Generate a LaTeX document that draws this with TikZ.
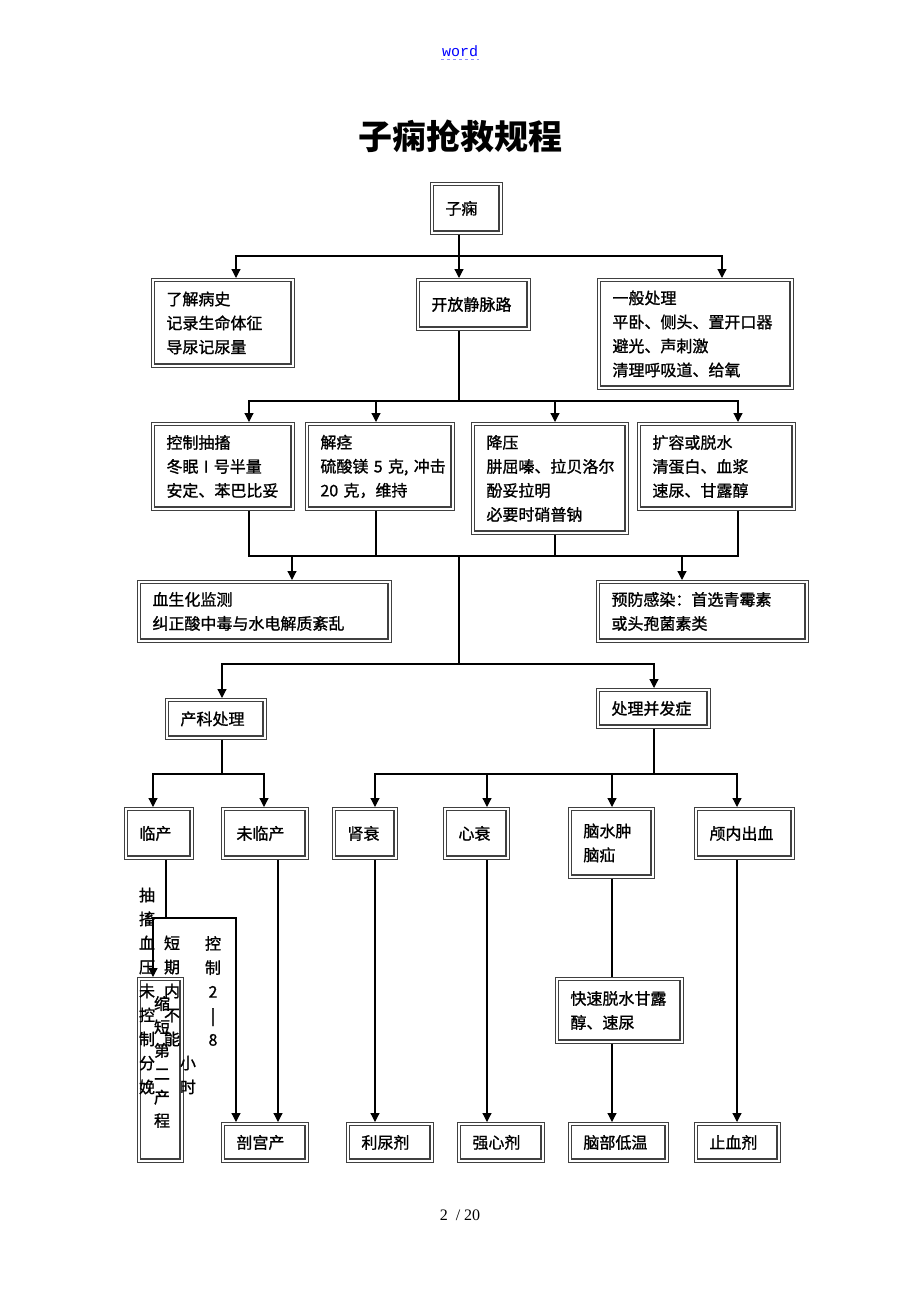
\documentclass[tikz,border=0pt]{standalone}
\usepackage{fontspec}
\setmainfont{Liberation Serif}
\newfontfamily\cjk{Noto Sans CJK SC}
\newfontfamily\cjkbox[FakeBold=1.2]{Noto Sans CJK SC}
\newfontfamily\hdrfont{Liberation Mono}
\usetikzlibrary{arrows.meta}
\hfuzz=30pt

\tikzset{
  line/.style={line width=1.2pt},
  arr/.style={line width=1.2pt,-{Triangle[width=9pt,length=9pt]}},
  box/.style={draw=black!75, line width=0.9pt, anchor=north west,
    inner xsep=15pt, inner ysep=0pt, align=left,
    font=\cjkbox\fontsize{16}{24}\selectfont,
    path picture={\draw[line width=1.6pt]
      ([shift={(3.2pt,-3.2pt)}]path picture bounding box.north west) rectangle
      ([shift={(-3.2pt,3.2pt)}]path picture bounding box.south east);}},
  vtxt/.style={font=\cjkbox\fontsize{16}{24}\selectfont, align=center, inner sep=0pt},
}

\begin{document}
\begin{tikzpicture}[x=1pt,y=-1pt]
\useasboundingbox (0,0) rectangle (920,1302);

\node[text=blue, font=\hdrfont\fontsize{15}{15}\selectfont, inner sep=1pt] (hdr) at (460,51) {word};
\draw[blue!45, dashed, line width=1pt] ([yshift=-2pt]hdr.south west) -- ([yshift=-2pt]hdr.south east);
\node[font=\cjk\bfseries\fontsize{34}{34}\selectfont] (title) at (460,136) {子痫抢救规程};
\node[font=\fontsize{16}{16}\selectfont] (page) at (460,1215) {2 \ / 20};

% first rows
\node[box, text width=42pt, minimum height=52pt] (zixian) at (430,182) {子痫};
\node[box, text width=113pt, minimum height=89pt] (liaojie) at (151,278) {了解病史\\记录生命体征\\导尿记尿量};
\node[box, text width=84pt, minimum height=52pt] (kaifang) at (416,278) {开放静脉路};
\node[box, text width=166pt, minimum height=111pt] (yiban) at (597,278) {一般处理\\平卧、侧头、置开口器\\避光、声刺激\\清理呼吸道、给氧};

\node[box, text width=113pt, minimum height=88pt] (kongzhi) at (151,422) {控制抽搐\\冬眠~I~号半量\\安定、苯巴比妥};
\node[box, text width=119pt, minimum height=88pt] (jiejing) at (305,422) {解痉\\硫酸镁~5~克,~冲击\\20~克，维持};
\node[box, text width=127pt, minimum height=112pt] (jiangya) at (471,422) {降压\\肼屈嗪、拉贝洛尔\\酚妥拉明\\必要时硝普钠};
\node[box, text width=128pt, minimum height=88pt] (kuorong) at (637,422) {扩容或脱水\\清蛋白、血浆\\速尿、甘露醇};

\node[box, text width=224pt, minimum height=62pt] (xuesheng) at (137,580) {血生化监测\\纠正酸中毒与水电解质紊乱};
\node[box, text width=182pt, minimum height=62pt] (yufang) at (596,580) {预防感染：首选青霉素\\或头孢菌素类};

\node[box, text width=71pt, minimum height=41pt] (chanke) at (165,698) {产科处理};
\node[box, text width=84pt, minimum height=40pt] (chuli) at (596,688) {处理并发症};

% third level
\node[box, text width=39pt, minimum height=52pt] (linchan) at (124,807) {临产};
\node[box, text width=57pt, minimum height=52pt] (weilin) at (221,807) {未临产};
\node[box, text width=35pt, minimum height=52pt] (shenshuai) at (332,807) {肾衰};
\node[box, text width=36pt, minimum height=52pt] (xinshuai) at (443,807) {心衰};
\node[box, text width=56pt, minimum height=71pt] (naoshui) at (568,807) {脑水肿\\脑疝};
\node[box, text width=70pt, minimum height=52pt] (lunei) at (694,807) {颅内出血};
\node[box, text width=98pt, minimum height=66pt] (kuaisu) at (555,977) {快速脱水甘露\\醇、速尿};
\node[box, text width=16pt, minimum height=185pt] (fenmian) at (137,977) {};

% bottom row
\node[box, text width=57pt, minimum height=40pt] (pougong) at (221,1122) {剖宫产};
\node[box, text width=57pt, minimum height=40pt] (liniao) at (346,1122) {利尿剂};
\node[box, text width=57pt, minimum height=40pt] (qiangxin) at (457,1122) {强心剂};
\node[box, text width=70pt, minimum height=40pt] (naobu) at (568,1122) {脑部低温};
\node[box, text width=56pt, minimum height=40pt] (zhixue) at (694,1122) {止血剂};

% loose vertical text
\node[vtxt] (col1) at (147,991) {抽\\搐\\血\\压\\未\\控\\制\\分\\娩};
\node[vtxt] (col2) at (172,991) {短\\期\\内\\不\\能};
\node[vtxt] (col3) at (213,991) {控\\制\\2\\|\\8};
\node[vtxt] (col4) at (188,1075) {小\\时};
\node[vtxt, font=\cjkbox\fontsize{16}{23.4}\selectfont] (col5) at (162,1062) {缩\\短\\第\\二\\产\\程};

% connectors
\coordinate (j1) at (459,256);
\draw[arr] (zixian.south -| j1) -- (kaifang.north -| j1);
\draw[arr] (j1) -| (liaojie.north -| 236,0);
\draw[arr] (j1) -| (yiban.north -| 722,0);

\coordinate (j2) at (459,401);
\draw[line] (kaifang.south -| j2) -- (j2);
\draw[arr] (j2) -| (kongzhi.north -| 249,0);
\draw[arr] (j2) -| (jiejing.north -| 376,0);
\draw[arr] (j2) -| (jiangya.north -| 555,0);
\draw[arr] (j2) -| (kuorong.north -| 738,0);

\coordinate (j3) at (459,556);
\draw[line] (kongzhi.south -| 249,0) |- (j3);
\draw[line] (jiejing.south -| 376,0) |- (j3);
\draw[line] (jiangya.south -| 555,0) |- (j3);
\draw[line] (kuorong.south -| 738,0) |- (j3);
\draw[arr] (j3) -| (xuesheng.north -| 292,0);
\draw[arr] (j3) -| (yufang.north -| 682,0);

\coordinate (j4) at (459,664);
\draw[line] (j3) -- (j4);
\draw[arr] (j4) -| (chanke.north -| 222,0);
\draw[arr] (j4) -| (chuli.north -| 654,0);

\coordinate (j5) at (222,774);
\draw[line] (chanke.south -| j5) -- (j5);
\draw[arr] (j5) -| (linchan.north -| 153,0);
\draw[arr] (j5) -| (weilin.north -| 264,0);

\coordinate (j6) at (654,774);
\draw[line] (chuli.south -| j6) -- (j6);
\draw[arr] (j6) -| (shenshuai.north -| 375,0);
\draw[arr] (j6) -| (xinshuai.north -| 487,0);
\draw[arr] (j6) -| (naoshui.north -| 612,0);
\draw[arr] (j6) -| (lunei.north -| 737,0);

\draw[arr] (shenshuai.south -| 375,0) -- (liniao.north -| 375,0);
\draw[arr] (xinshuai.south -| 487,0) -- (qiangxin.north -| 487,0);
\draw[line] (naoshui.south -| 612,0) -- (kuaisu.north -| 612,0);
\draw[arr] (kuaisu.south -| 612,0) -- (naobu.north -| 612,0);
\draw[arr] (lunei.south -| 737,0) -- (zhixue.north -| 737,0);
\draw[arr] (weilin.south -| 278,0) -- (pougong.north -| 278,0);

\coordinate (j7) at (166,918);
\draw[line] (linchan.south -| j7) -- (j7);
\draw[arr] (j7) -| (fenmian.north -| 153,0);
\draw[arr] (j7) -| (pougong.north -| 236,0);
\end{tikzpicture}
\end{document}
